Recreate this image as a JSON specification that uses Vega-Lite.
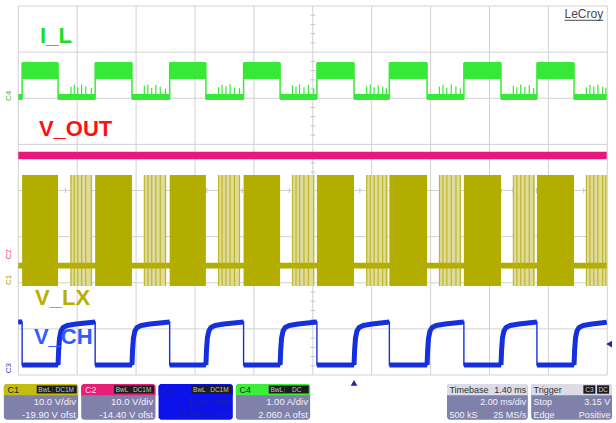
{
  "$schema": "https://vega.github.io/schema/vega-lite/v6.json",
  "padding": 0,
  "spacing": 0,
  "bounds": "flush",
  "background": "white",
  "config": {"view": {"stroke": null}, "font": "Liberation Sans"},
  "datasets": {
    "gridT": [{"t": -10}, {"t": -8}, {"t": -6}, {"t": -4}, {"t": -2}, {"t": 0}, {"t": 2}, {"t": 4}, {"t": 6}, {"t": 8}, {"t": 10}],
    "gridV": [{"v": -4}, {"v": -3}, {"v": -2}, {"v": -1}, {"v": 0}, {"v": 1}, {"v": 2}, {"v": 3}, {"v": 4}],
    "minorT": [{"t": -9.6}, {"t": -9.2}, {"t": -8.8}, {"t": -8.4}, {"t": -7.6}, {"t": -7.2}, {"t": -6.8}, {"t": -6.4}, {"t": -5.6}, {"t": -5.2}, {"t": -4.8}, {"t": -4.4}, {"t": -3.6}, {"t": -3.2}, {"t": -2.8}, {"t": -2.4}, {"t": -1.6}, {"t": -1.2}, {"t": -0.8}, {"t": -0.4}, {"t": 0.4}, {"t": 0.8}, {"t": 1.2}, {"t": 1.6}, {"t": 2.4}, {"t": 2.8}, {"t": 3.2}, {"t": 3.6}, {"t": 4.4}, {"t": 4.8}, {"t": 5.2}, {"t": 5.6}, {"t": 6.4}, {"t": 6.8}, {"t": 7.2}, {"t": 7.6}, {"t": 8.4}, {"t": 8.8}, {"t": 9.2}, {"t": 9.6}],
    "minorV": [{"v": -3.8}, {"v": -3.6}, {"v": -3.4}, {"v": -3.2}, {"v": -2.8}, {"v": -2.6}, {"v": -2.4}, {"v": -2.2}, {"v": -1.8}, {"v": -1.6}, {"v": -1.4}, {"v": -1.2}, {"v": -0.8}, {"v": -0.6}, {"v": -0.4}, {"v": -0.2}, {"v": 0.2}, {"v": 0.4}, {"v": 0.6}, {"v": 0.8}, {"v": 1.2}, {"v": 1.4}, {"v": 1.6}, {"v": 1.8}, {"v": 2.2}, {"v": 2.4}, {"v": 2.6}, {"v": 2.8}, {"v": 3.2}, {"v": 3.4}, {"v": 3.6}, {"v": 3.8}],
    "bands": [
      {"sig": "V_LX burst", "t0": -8.24, "t1": -7.49, "lo": -2.07, "hi": 0.336},
      {"sig": "V_LX burst", "t0": -5.73, "t1": -4.98, "lo": -2.07, "hi": 0.336},
      {"sig": "V_LX burst", "t0": -3.22, "t1": -2.47, "lo": -2.07, "hi": 0.336},
      {"sig": "V_LX burst", "t0": -0.7, "t1": 0.05, "lo": -2.07, "hi": 0.336},
      {"sig": "V_LX burst", "t0": 1.81, "t1": 2.56, "lo": -2.07, "hi": 0.336},
      {"sig": "V_LX burst", "t0": 4.29, "t1": 5.04, "lo": -2.07, "hi": 0.336},
      {"sig": "V_LX burst", "t0": 6.8, "t1": 7.55, "lo": -2.07, "hi": 0.336},
      {"sig": "V_LX burst", "t0": 9.28, "t1": 9.98, "lo": -2.07, "hi": 0.336},
      {"sig": "V_OUT", "t0": -10, "t1": 9.98, "lo": 0.68, "hi": 0.84},
      {"sig": "V_LX", "t0": -10, "t1": 9.98, "lo": -1.69, "hi": -1.565},
      {"sig": "V_LX", "t0": -9.87, "t1": -8.65, "lo": -2.07, "hi": 0.336},
      {"sig": "V_LX", "t0": -7.39, "t1": -6.14, "lo": -2.07, "hi": 0.336},
      {"sig": "V_LX", "t0": -4.86, "t1": -3.63, "lo": -2.07, "hi": 0.336},
      {"sig": "V_LX", "t0": -2.35, "t1": -1.11, "lo": -2.07, "hi": 0.336},
      {"sig": "V_LX", "t0": 0.14, "t1": 1.4, "lo": -2.07, "hi": 0.336},
      {"sig": "V_LX", "t0": 2.6, "t1": 3.88, "lo": -2.07, "hi": 0.336},
      {"sig": "V_LX", "t0": 5.13, "t1": 6.39, "lo": -2.07, "hi": 0.336},
      {"sig": "V_LX", "t0": 7.61, "t1": 8.87, "lo": -2.07, "hi": 0.336},
      {"sig": "I_L", "t0": -10, "t1": -9.87, "lo": 1.962, "hi": 2.092},
      {"sig": "I_L", "t0": -9.87, "t1": -8.65, "lo": 2.417, "hi": 2.786},
      {"sig": "I_L", "t0": -8.65, "t1": -7.39, "lo": 1.962, "hi": 2.092},
      {"sig": "I_L", "t0": -7.39, "t1": -6.14, "lo": 2.417, "hi": 2.786},
      {"sig": "I_L", "t0": -6.14, "t1": -4.86, "lo": 1.962, "hi": 2.092},
      {"sig": "I_L", "t0": -4.86, "t1": -3.63, "lo": 2.417, "hi": 2.786},
      {"sig": "I_L", "t0": -3.63, "t1": -2.35, "lo": 1.962, "hi": 2.092},
      {"sig": "I_L", "t0": -2.35, "t1": -1.11, "lo": 2.417, "hi": 2.786},
      {"sig": "I_L", "t0": -1.11, "t1": 0.14, "lo": 1.962, "hi": 2.092},
      {"sig": "I_L", "t0": 0.14, "t1": 1.4, "lo": 2.417, "hi": 2.786},
      {"sig": "I_L", "t0": 1.4, "t1": 2.6, "lo": 1.962, "hi": 2.092},
      {"sig": "I_L", "t0": 2.6, "t1": 3.88, "lo": 2.417, "hi": 2.786},
      {"sig": "I_L", "t0": 3.88, "t1": 5.13, "lo": 1.962, "hi": 2.092},
      {"sig": "I_L", "t0": 5.13, "t1": 6.39, "lo": 2.417, "hi": 2.786},
      {"sig": "I_L", "t0": 6.39, "t1": 7.61, "lo": 1.962, "hi": 2.092},
      {"sig": "I_L", "t0": 7.61, "t1": 8.87, "lo": 2.417, "hi": 2.786},
      {"sig": "I_L", "t0": 8.87, "t1": 9.98, "lo": 1.962, "hi": 2.092}
    ],
    "bursts": [
      {"t": -8.21, "peak": 2.25}, {"t": -8.1, "peak": 2.29}, {"t": -7.98, "peak": 2.24}, {"t": -7.85, "peak": 2.3}, {"t": -7.71, "peak": 2.26}, {"t": -7.52, "peak": 2.22},
      {"t": -5.72, "peak": 2.27}, {"t": -5.6, "peak": 2.3}, {"t": -5.47, "peak": 2.23}, {"t": -5.33, "peak": 2.29}, {"t": -5.18, "peak": 2.25}, {"t": -5.0, "peak": 2.21},
      {"t": -3.2, "peak": 2.24}, {"t": -3.08, "peak": 2.29}, {"t": -2.95, "peak": 2.26}, {"t": -2.81, "peak": 2.31}, {"t": -2.66, "peak": 2.23}, {"t": -2.49, "peak": 2.22},
      {"t": -0.69, "peak": 2.28}, {"t": -0.57, "peak": 2.25}, {"t": -0.45, "peak": 2.3}, {"t": -0.3, "peak": 2.24}, {"t": -0.15, "peak": 2.29}, {"t": 0.03, "peak": 2.21},
      {"t": 1.83, "peak": 2.26}, {"t": 1.95, "peak": 2.3}, {"t": 2.08, "peak": 2.24}, {"t": 2.22, "peak": 2.28}, {"t": 2.37, "peak": 2.25}, {"t": 2.5, "peak": 2.22},
      {"t": 4.3, "peak": 2.25}, {"t": 4.42, "peak": 2.29}, {"t": 4.55, "peak": 2.23}, {"t": 4.7, "peak": 2.3}, {"t": 4.86, "peak": 2.26}, {"t": 5.01, "peak": 2.21},
      {"t": 6.81, "peak": 2.27}, {"t": 6.93, "peak": 2.24}, {"t": 7.06, "peak": 2.3}, {"t": 7.2, "peak": 2.25}, {"t": 7.35, "peak": 2.28}, {"t": 7.5, "peak": 2.22},
      {"t": 9.29, "peak": 2.24}, {"t": 9.41, "peak": 2.29}, {"t": 9.54, "peak": 2.26}, {"t": 9.68, "peak": 2.3}, {"t": 9.84, "peak": 2.25}, {"t": 9.95, "peak": 2.23}
    ],
    "transitions": [
      {"t": -9.87, "lo": 1.98, "hi": 2.77}, {"t": -8.65, "lo": 1.98, "hi": 2.77}, {"t": -7.39, "lo": 1.98, "hi": 2.77}, {"t": -6.14, "lo": 1.98, "hi": 2.77},
      {"t": -4.86, "lo": 1.98, "hi": 2.77}, {"t": -3.63, "lo": 1.98, "hi": 2.77}, {"t": -2.35, "lo": 1.98, "hi": 2.77}, {"t": -1.11, "lo": 1.98, "hi": 2.77},
      {"t": 0.14, "lo": 1.98, "hi": 2.77}, {"t": 1.4, "lo": 1.98, "hi": 2.77}, {"t": 2.6, "lo": 1.98, "hi": 2.77}, {"t": 3.88, "lo": 1.98, "hi": 2.77},
      {"t": 5.13, "lo": 1.98, "hi": 2.77}, {"t": 6.39, "lo": 1.98, "hi": 2.77}, {"t": 7.61, "lo": 1.98, "hi": 2.77}, {"t": 8.87, "lo": 1.98, "hi": 2.77}
    ],
    "vch": [
      {"t": -10, "v": -2.85, "seg": "h0"}, {"t": -9.87, "v": -2.85, "seg": "h0"},
      {"t": -9.87, "v": -3.783, "seg": "l0"}, {"t": -8.65, "v": -3.783, "seg": "l0"},
      {"t": -8.65, "v": -3.783, "seg": "h1"}, {"t": -8.63, "v": -3.458, "seg": "h1"}, {"t": -8.6, "v": -3.198, "seg": "h1"}, {"t": -8.55, "v": -3.046, "seg": "h1"}, {"t": -8.48, "v": -2.97, "seg": "h1"}, {"t": -8.34, "v": -2.927, "seg": "h1"}, {"t": -8.04, "v": -2.894, "seg": "h1"}, {"t": -7.39, "v": -2.851, "seg": "h1"},
      {"t": -7.39, "v": -3.783, "seg": "l1"}, {"t": -6.14, "v": -3.783, "seg": "l1"},
      {"t": -6.14, "v": -3.783, "seg": "h2"}, {"t": -6.12, "v": -3.458, "seg": "h2"}, {"t": -6.09, "v": -3.198, "seg": "h2"}, {"t": -6.04, "v": -3.046, "seg": "h2"}, {"t": -5.97, "v": -2.97, "seg": "h2"}, {"t": -5.83, "v": -2.927, "seg": "h2"}, {"t": -5.53, "v": -2.894, "seg": "h2"}, {"t": -4.86, "v": -2.851, "seg": "h2"},
      {"t": -4.86, "v": -3.783, "seg": "l2"}, {"t": -3.63, "v": -3.783, "seg": "l2"},
      {"t": -3.63, "v": -3.783, "seg": "h3"}, {"t": -3.61, "v": -3.458, "seg": "h3"}, {"t": -3.58, "v": -3.198, "seg": "h3"}, {"t": -3.53, "v": -3.046, "seg": "h3"}, {"t": -3.46, "v": -2.97, "seg": "h3"}, {"t": -3.32, "v": -2.927, "seg": "h3"}, {"t": -3.02, "v": -2.894, "seg": "h3"}, {"t": -2.35, "v": -2.851, "seg": "h3"},
      {"t": -2.35, "v": -3.783, "seg": "l3"}, {"t": -1.11, "v": -3.783, "seg": "l3"},
      {"t": -1.11, "v": -3.783, "seg": "h4"}, {"t": -1.09, "v": -3.458, "seg": "h4"}, {"t": -1.06, "v": -3.198, "seg": "h4"}, {"t": -1.01, "v": -3.046, "seg": "h4"}, {"t": -0.94, "v": -2.97, "seg": "h4"}, {"t": -0.8, "v": -2.927, "seg": "h4"}, {"t": -0.5, "v": -2.894, "seg": "h4"}, {"t": 0.14, "v": -2.851, "seg": "h4"},
      {"t": 0.14, "v": -3.783, "seg": "l4"}, {"t": 1.4, "v": -3.783, "seg": "l4"},
      {"t": 1.4, "v": -3.783, "seg": "h5"}, {"t": 1.42, "v": -3.458, "seg": "h5"}, {"t": 1.45, "v": -3.198, "seg": "h5"}, {"t": 1.5, "v": -3.046, "seg": "h5"}, {"t": 1.57, "v": -2.97, "seg": "h5"}, {"t": 1.71, "v": -2.927, "seg": "h5"}, {"t": 2.01, "v": -2.894, "seg": "h5"}, {"t": 2.6, "v": -2.851, "seg": "h5"},
      {"t": 2.6, "v": -3.783, "seg": "l5"}, {"t": 3.88, "v": -3.783, "seg": "l5"},
      {"t": 3.88, "v": -3.783, "seg": "h6"}, {"t": 3.9, "v": -3.458, "seg": "h6"}, {"t": 3.93, "v": -3.198, "seg": "h6"}, {"t": 3.98, "v": -3.046, "seg": "h6"}, {"t": 4.05, "v": -2.97, "seg": "h6"}, {"t": 4.19, "v": -2.927, "seg": "h6"}, {"t": 4.49, "v": -2.894, "seg": "h6"}, {"t": 5.13, "v": -2.851, "seg": "h6"},
      {"t": 5.13, "v": -3.783, "seg": "l6"}, {"t": 6.39, "v": -3.783, "seg": "l6"},
      {"t": 6.39, "v": -3.783, "seg": "h7"}, {"t": 6.41, "v": -3.458, "seg": "h7"}, {"t": 6.44, "v": -3.198, "seg": "h7"}, {"t": 6.49, "v": -3.046, "seg": "h7"}, {"t": 6.56, "v": -2.97, "seg": "h7"}, {"t": 6.7, "v": -2.927, "seg": "h7"}, {"t": 7.0, "v": -2.894, "seg": "h7"}, {"t": 7.61, "v": -2.851, "seg": "h7"},
      {"t": 7.61, "v": -3.783, "seg": "l7"}, {"t": 8.87, "v": -3.783, "seg": "l7"},
      {"t": 8.87, "v": -3.783, "seg": "h8"}, {"t": 8.89, "v": -3.458, "seg": "h8"}, {"t": 8.92, "v": -3.198, "seg": "h8"}, {"t": 8.97, "v": -3.046, "seg": "h8"}, {"t": 9.04, "v": -2.97, "seg": "h8"}, {"t": 9.18, "v": -2.927, "seg": "h8"}, {"t": 9.48, "v": -2.894, "seg": "h8"}, {"t": 9.98, "v": -2.855, "seg": "h8"}
    ],
    "labels": [
      {"text": "I_L", "t": -9.26, "v": 3.36},
      {"text": "V_OUT", "t": -9.3, "v": 1.34},
      {"text": "V_LX", "t": -9.43, "v": -2.34},
      {"text": "V_CH", "t": -9.47, "v": -3.165}
    ],
    "tags": [
      {"tag": "C4", "t": -10.3, "v": 2.05},
      {"tag": "C2", "t": -10.3, "v": -1.38},
      {"tag": "C1", "t": -10.3, "v": -1.94},
      {"tag": "C3", "t": -10.3, "v": -3.85}
    ],
    "brand": [{"text": "LeCroy", "t0": 8.55, "t1": 9.86, "v": 3.83, "vLine": 3.69}],
    "trig": [
      {"kind": "time", "t": 1.4, "v": -4.17},
      {"kind": "level", "t": 10.06, "v": -3.33}
    ],
    "chanBoxes": [{"slot": "C1"}, {"slot": "C2"}, {"slot": "C3"}, {"slot": "C4"}],
    "chanBadges": [
      {"slot": "C1", "kind": "A", "text": "BwL"}, {"slot": "C1", "kind": "B", "text": "DC1M"},
      {"slot": "C2", "kind": "A", "text": "BwL"}, {"slot": "C2", "kind": "B", "text": "DC1M"},
      {"slot": "C3", "kind": "A", "text": "BwL"}, {"slot": "C3", "kind": "B", "text": "DC1M"},
      {"slot": "C4", "kind": "A", "text": "BwL"}, {"slot": "C4", "kind": "B", "text": "DC"}
    ],
    "chanText": [
      {"slot": "C1", "line": 0, "side": "l", "text": "C1"},
      {"slot": "C1", "line": 1, "side": "r", "text": "10.0 V/div"},
      {"slot": "C1", "line": 2, "side": "r", "text": "-19.90 V ofst"},
      {"slot": "C2", "line": 0, "side": "l", "text": "C2"},
      {"slot": "C2", "line": 1, "side": "r", "text": "10.0 V/div"},
      {"slot": "C2", "line": 2, "side": "r", "text": "-14.40 V ofst"},
      {"slot": "C3", "line": 0, "side": "l", "text": "C3"},
      {"slot": "C3", "line": 1, "side": "r", "text": "1.00 V/div"},
      {"slot": "C3", "line": 2, "side": "r", "text": "-3.360 V ofst"},
      {"slot": "C4", "line": 0, "side": "l", "text": "C4"},
      {"slot": "C4", "line": 1, "side": "r", "text": "1.00 A/div"},
      {"slot": "C4", "line": 2, "side": "r", "text": "2.060 A ofst"}
    ],
    "readBoxes": [{"slot": "Timebase"}, {"slot": "Trigger"}],
    "readBadges": [
      {"slot": "Trigger", "kind": "A", "text": "C3"},
      {"slot": "Trigger", "kind": "B", "text": "DC"}
    ],
    "readText": [
      {"slot": "Timebase", "line": 0, "side": "l", "text": "Timebase"},
      {"slot": "Timebase", "line": 0, "side": "r", "text": "1.40 ms"},
      {"slot": "Timebase", "line": 1, "side": "r", "text": "2.00 ms/div"},
      {"slot": "Timebase", "line": 2, "side": "l", "text": "500 kS"},
      {"slot": "Timebase", "line": 2, "side": "r", "text": "25 MS/s"},
      {"slot": "Trigger", "line": 0, "side": "l", "text": "Trigger"},
      {"slot": "Trigger", "line": 1, "side": "l", "text": "Stop"},
      {"slot": "Trigger", "line": 1, "side": "r", "text": "3.15 V"},
      {"slot": "Trigger", "line": 2, "side": "l", "text": "Edge"},
      {"slot": "Trigger", "line": 2, "side": "r", "text": "Positive"}
    ]
  },
  "vconcat": [
    {
      "width": 616,
      "height": 380,
      "resolve": {"scale": {"color": "independent", "shape": "independent"}},
      "layer": [
        {
          "data": {"name": "gridT"},
          "mark": {"type": "rule", "color": "#d2d2d2", "strokeWidth": 1},
          "encoding": {
            "x": {"field": "t", "type": "quantitative", "scale": {"domain": [-10.621, 10.295], "nice": false, "zero": false}, "axis": null},
            "y": {"datum": -4, "type": "quantitative", "scale": {"domain": [-4.108, 4.13], "nice": false, "zero": false}, "axis": null},
            "y2": {"datum": 4}
          }
        },
        {
          "data": {"name": "gridV"},
          "mark": {"type": "rule", "color": "#d2d2d2", "strokeWidth": 1},
          "encoding": {
            "y": {"field": "v", "type": "quantitative", "axis": null},
            "x": {"datum": -10, "type": "quantitative", "axis": null},
            "x2": {"datum": 10}
          }
        },
        {
          "data": {"name": "minorT"},
          "mark": {"type": "rule", "color": "#c4c4c4", "strokeWidth": 1},
          "encoding": {
            "x": {"field": "t", "type": "quantitative", "axis": null},
            "y": {"datum": -0.055, "type": "quantitative", "axis": null},
            "y2": {"datum": 0.055}
          }
        },
        {
          "data": {"name": "minorV"},
          "mark": {"type": "rule", "color": "#c4c4c4", "strokeWidth": 1},
          "encoding": {
            "y": {"field": "v", "type": "quantitative", "axis": null},
            "x": {"datum": -0.075, "type": "quantitative", "axis": null},
            "x2": {"datum": 0.075}
          }
        },
        {
          "data": {"name": "bands"},
          "mark": {"type": "rect"},
          "encoding": {
            "x": {"field": "t0", "type": "quantitative", "axis": null},
            "x2": {"field": "t1"},
            "y": {"field": "lo", "type": "quantitative", "axis": null},
            "y2": {"field": "hi"},
            "color": {"field": "sig", "type": "nominal", "legend": null,
              "scale": {"domain": ["I_L", "V_OUT", "V_LX", "V_LX burst"], "range": ["#38e838", "#e6187c", "#b3ad00", "#dedb9c"]}}
          }
        },
        {
          "data": {"name": "bursts"},
          "mark": {"type": "rule", "color": "#b8b214", "strokeWidth": 1.2, "opacity": 0.85},
          "encoding": {
            "x": {"field": "t", "type": "quantitative", "axis": null},
            "y": {"datum": -2.07, "type": "quantitative", "axis": null},
            "y2": {"datum": 0.336}
          }
        },
        {
          "data": {"name": "bursts"},
          "mark": {"type": "rule", "color": "#38e838", "strokeWidth": 1.2},
          "encoding": {
            "x": {"field": "t", "type": "quantitative", "axis": null},
            "y": {"field": "peak", "type": "quantitative", "axis": null},
            "y2": {"datum": 2.05}
          }
        },
        {
          "data": {"name": "transitions"},
          "mark": {"type": "rule", "color": "#38e838", "strokeWidth": 1.5},
          "encoding": {
            "x": {"field": "t", "type": "quantitative", "axis": null},
            "y": {"field": "lo", "type": "quantitative", "axis": null},
            "y2": {"field": "hi"}
          }
        },
        {
          "data": {"name": "vch"},
          "mark": {"type": "line", "color": "#1530dc", "strokeWidth": 5, "strokeCap": "butt", "strokeJoin": "round"},
          "encoding": {
            "x": {"field": "t", "type": "quantitative", "axis": null},
            "y": {"field": "v", "type": "quantitative", "axis": null},
            "detail": {"field": "seg", "type": "nominal"},
            "order": {"value": null}
          }
        },
        {
          "data": {"name": "vch"},
          "mark": {"type": "line", "color": "#1530dc", "strokeWidth": 1.4},
          "encoding": {
            "x": {"field": "t", "type": "quantitative", "axis": null},
            "y": {"field": "v", "type": "quantitative", "axis": null},
            "order": {"value": null}
          }
        },
        {
          "data": {"name": "labels"},
          "mark": {"type": "text", "align": "left", "baseline": "middle", "fontSize": 22, "fontWeight": "bold", "font": "Liberation Sans"},
          "encoding": {
            "x": {"field": "t", "type": "quantitative", "axis": null},
            "y": {"field": "v", "type": "quantitative", "axis": null},
            "text": {"field": "text"},
            "color": {"field": "text", "type": "nominal", "legend": null,
              "scale": {"domain": ["I_L", "V_OUT", "V_LX", "V_CH"], "range": ["#22dd22", "#ff1111", "#b8b000", "#2f5bff"]}}
          }
        },
        {
          "data": {"name": "tags"},
          "mark": {"type": "text", "align": "center", "baseline": "middle", "fontSize": 8, "angle": 270},
          "encoding": {
            "x": {"field": "t", "type": "quantitative", "axis": null},
            "y": {"field": "v", "type": "quantitative", "axis": null},
            "text": {"field": "tag"},
            "color": {"field": "tag", "type": "nominal", "legend": null,
              "scale": {"domain": ["C1", "C2", "C3", "C4"], "range": ["#a8a000", "#e0407a", "#3040c8", "#30c030"]}}
          }
        },
        {
          "data": {"name": "brand"},
          "mark": {"type": "text", "align": "right", "baseline": "middle", "fontSize": 12, "color": "#4a4a4a"},
          "encoding": {
            "x": {"field": "t1", "type": "quantitative", "axis": null},
            "y": {"field": "v", "type": "quantitative", "axis": null},
            "text": {"field": "text"}
          }
        },
        {
          "data": {"name": "brand"},
          "mark": {"type": "rule", "color": "#4a4a4a", "strokeWidth": 1},
          "encoding": {
            "x": {"field": "t0", "type": "quantitative", "axis": null},
            "x2": {"field": "t1"},
            "y": {"field": "vLine", "type": "quantitative", "axis": null}
          }
        },
        {
          "data": {"name": "trig"},
          "mark": {"type": "point", "filled": true, "size": 45, "color": "#27279a", "opacity": 1},
          "encoding": {
            "x": {"field": "t", "type": "quantitative", "axis": null},
            "y": {"field": "v", "type": "quantitative", "axis": null},
            "shape": {"field": "kind", "type": "nominal", "legend": null,
              "scale": {"domain": ["time", "level"], "range": ["triangle-up", "triangle-left"]}}
          }
        }
      ]
    },
    {
      "hconcat": [
        {
          "width": 314,
          "height": 43,
          "layer": [
            {
              "data": {"name": "chanBoxes"},
              "mark": {"type": "rect", "cornerRadius": 3},
              "encoding": {
                "x": {"field": "slot", "type": "nominal", "axis": null,
                  "scale": {"domain": ["C1", "C2", "C3", "C4"], "paddingInner": 0.04, "paddingOuter": 0.05}},
                "y": {"datum": -0.45, "type": "quantitative", "axis": null,
                  "scale": {"domain": [-0.76, 2.68], "reverse": true, "nice": false, "zero": false}},
                "y2": {"datum": 2.42},
                "color": {"condition": {"test": "datum.slot === 'C3'", "value": "#0b12ea"}, "value": "#7f81ab"}
              }
            },
            {
              "data": {"name": "chanBoxes"},
              "mark": {"type": "rect", "cornerRadiusTopLeft": 3, "cornerRadiusTopRight": 3},
              "encoding": {
                "x": {"field": "slot", "type": "nominal", "axis": null},
                "y": {"datum": -0.45, "type": "quantitative", "axis": null},
                "y2": {"datum": 0.45},
                "color": {"field": "slot", "type": "nominal", "legend": null,
                  "scale": {"domain": ["C1", "C2", "C3", "C4"], "range": ["#c4bd10", "#e61f78", "#0b12ea", "#3aee3a"]}}
              }
            },
            {
              "data": {"name": "chanBadges"},
              "transform": [{"filter": "datum.kind === 'A'"}],
              "mark": {"type": "point", "shape": "M-1,-0.5H1V0.5H-1Z", "filled": true, "size": 256, "color": "#1c1c1c", "opacity": 1},
              "encoding": {
                "x": {"field": "slot", "type": "nominal", "axis": null, "bandPosition": 0.55},
                "y": {"datum": 0, "type": "quantitative", "axis": null}
              }
            },
            {
              "data": {"name": "chanBadges"},
              "transform": [{"filter": "datum.kind === 'B'"}],
              "mark": {"type": "point", "shape": "M-1,-0.33H1V0.33H-1Z", "filled": true, "size": 576, "color": "#1c1c1c", "opacity": 1},
              "encoding": {
                "x": {"field": "slot", "type": "nominal", "axis": null, "bandPosition": 0.82},
                "y": {"datum": 0, "type": "quantitative", "axis": null}
              }
            },
            {
              "data": {"name": "chanBadges"},
              "transform": [{"filter": "datum.kind === 'A'"}],
              "mark": {"type": "text", "fontSize": 6.5, "baseline": "middle", "color": "#c8c8c8"},
              "encoding": {
                "x": {"field": "slot", "type": "nominal", "axis": null, "bandPosition": 0.55},
                "y": {"datum": 0, "type": "quantitative", "axis": null},
                "text": {"field": "text"}
              }
            },
            {
              "data": {"name": "chanBadges"},
              "transform": [{"filter": "datum.kind === 'B'"}],
              "mark": {"type": "text", "fontSize": 6.5, "baseline": "middle", "color": "#c8c8c8"},
              "encoding": {
                "x": {"field": "slot", "type": "nominal", "axis": null, "bandPosition": 0.82},
                "y": {"datum": 0, "type": "quantitative", "axis": null},
                "text": {"field": "text"}
              }
            },
            {
              "data": {"name": "chanText"},
              "transform": [{"filter": "datum.side === 'l'"}],
              "mark": {"type": "text", "align": "left", "baseline": "middle", "fontSize": 9},
              "encoding": {
                "x": {"field": "slot", "type": "nominal", "axis": null, "bandPosition": 0.05},
                "y": {"field": "line", "type": "quantitative", "axis": null},
                "text": {"field": "text"},
                "color": {"condition": [
                  {"test": "datum.slot === 'C3'", "value": "#2020a8"},
                  {"test": "datum.slot === 'C2'", "value": "#ffd8e6"}
                ], "value": "#222222"}
              }
            },
            {
              "data": {"name": "chanText"},
              "transform": [{"filter": "datum.side === 'r'"}],
              "mark": {"type": "text", "align": "right", "baseline": "middle", "fontSize": 9.5},
              "encoding": {
                "x": {"field": "slot", "type": "nominal", "axis": null, "bandPosition": 0.97},
                "y": {"field": "line", "type": "quantitative", "axis": null},
                "text": {"field": "text"},
                "color": {"condition": {"test": "datum.slot === 'C3'", "value": "#2020a8"}, "value": "#f2f2fa"}
              }
            }
          ]
        },
        {
          "width": 165,
          "height": 43,
          "layer": [
            {
              "data": {"name": "readBoxes"},
              "mark": {"type": "rect", "cornerRadius": 3, "color": "#7f81ab"},
              "encoding": {
                "x": {"field": "slot", "type": "nominal", "axis": null,
                  "scale": {"domain": ["Timebase", "Trigger"], "paddingInner": 0.04, "paddingOuter": 0}},
                "y": {"datum": -0.45, "type": "quantitative", "axis": null,
                  "scale": {"domain": [-0.76, 2.68], "reverse": true, "nice": false, "zero": false}},
                "y2": {"datum": 2.42}
              }
            },
            {
              "data": {"name": "readBoxes"},
              "mark": {"type": "rect", "cornerRadiusTopLeft": 3, "cornerRadiusTopRight": 3, "color": "#dcdce8"},
              "encoding": {
                "x": {"field": "slot", "type": "nominal", "axis": null},
                "y": {"datum": -0.45, "type": "quantitative", "axis": null},
                "y2": {"datum": 0.45}
              }
            },
            {
              "data": {"name": "readBadges"},
              "transform": [{"filter": "datum.kind === 'A'"}],
              "mark": {"type": "point", "shape": "M-1,-0.7H1V0.7H-1Z", "filled": true, "size": 144, "color": "#1c1c1c", "opacity": 1},
              "encoding": {
                "x": {"field": "slot", "type": "nominal", "axis": null, "bandPosition": 0.72},
                "y": {"datum": 0, "type": "quantitative", "axis": null}
              }
            },
            {
              "data": {"name": "readBadges"},
              "transform": [{"filter": "datum.kind === 'B'"}],
              "mark": {"type": "point", "shape": "M-1,-0.7H1V0.7H-1Z", "filled": true, "size": 144, "color": "#1c1c1c", "opacity": 1},
              "encoding": {
                "x": {"field": "slot", "type": "nominal", "axis": null, "bandPosition": 0.89},
                "y": {"datum": 0, "type": "quantitative", "axis": null}
              }
            },
            {
              "data": {"name": "readBadges"},
              "transform": [{"filter": "datum.kind === 'A'"}],
              "mark": {"type": "text", "fontSize": 6.5, "baseline": "middle", "color": "#d0d0d0"},
              "encoding": {
                "x": {"field": "slot", "type": "nominal", "axis": null, "bandPosition": 0.72},
                "y": {"datum": 0, "type": "quantitative", "axis": null},
                "text": {"field": "text"}
              }
            },
            {
              "data": {"name": "readBadges"},
              "transform": [{"filter": "datum.kind === 'B'"}],
              "mark": {"type": "text", "fontSize": 6.5, "baseline": "middle", "color": "#d0d0d0"},
              "encoding": {
                "x": {"field": "slot", "type": "nominal", "axis": null, "bandPosition": 0.89},
                "y": {"datum": 0, "type": "quantitative", "axis": null},
                "text": {"field": "text"}
              }
            },
            {
              "data": {"name": "readText"},
              "transform": [{"filter": "datum.side === 'l'"}],
              "mark": {"type": "text", "align": "left", "baseline": "middle", "fontSize": 9},
              "encoding": {
                "x": {"field": "slot", "type": "nominal", "axis": null, "bandPosition": 0.03},
                "y": {"field": "line", "type": "quantitative", "axis": null},
                "text": {"field": "text"},
                "color": {"condition": {"test": "datum.line === 0", "value": "#303030"}, "value": "#f2f2fa"}
              }
            },
            {
              "data": {"name": "readText"},
              "transform": [{"filter": "datum.side === 'r'"}],
              "mark": {"type": "text", "align": "right", "baseline": "middle", "fontSize": 9},
              "encoding": {
                "x": {"field": "slot", "type": "nominal", "axis": null, "bandPosition": 0.98},
                "y": {"field": "line", "type": "quantitative", "axis": null},
                "text": {"field": "text"},
                "color": {"condition": {"test": "datum.line === 0", "value": "#303030"}, "value": "#f2f2fa"}
              }
            }
          ]
        }
      ],
      "spacing": 133,
      "bounds": "flush"
    }
  ]
}
